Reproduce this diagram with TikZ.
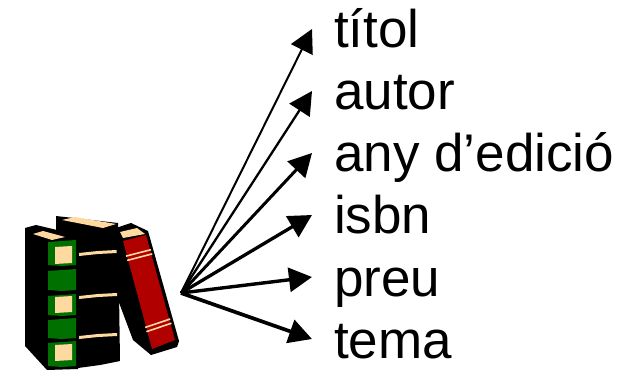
\documentclass[tikz,border=0pt]{standalone}
\usepackage{fontspec}
\setmainfont{Liberation Sans}
\usetikzlibrary{arrows.meta}
\definecolor{spineGreen}{RGB}{0,112,0}
\definecolor{spineRed}{RGB}{176,0,0}
\definecolor{pageBeige}{RGB}{255,218,160}

\begin{document}
\begin{tikzpicture}[x=1pt, y=-1pt,
    field/.style={anchor=base west, inner sep=0pt, text height=38pt, text depth=0pt,
      font=\fontsize{53}{62}\selectfont},
    link/.style={-{Triangle[length=23pt,width=24pt]}}]
	\useasboundingbox (0,0) rectangle (626,371);
	% middle book
	\fill (56,216) -- (118,223) -- (120,361) -- (100,365) -- (78,368) -- (56,345) -- cycle;
	\fill[pageBeige] (62,220) -- (75,217) -- (116,224) -- (103,228) -- cycle;
	\foreach \y in {250,293,333}
		\fill[pageBeige] (79,\y+3) -- (98,\y+1) -- (117,\y) -- (117,\y+3) -- (98,\y+4) -- (79,\y+6) -- cycle;
	% red book
	\fill (116,228) -- (131,223) -- (148,231) -- (179,341) -- (177,347) -- (151,355) -- (133,340) -- (118,300) -- cycle;
	\fill[spineRed] (123,241) -- (146,235) -- (175,340) -- (152,349) -- cycle;
	\fill[pageBeige] (120,232) -- (137,228) -- (145,234) -- (123,238) -- cycle;
	\draw[pageBeige, line width=1.6pt] (126,256.1) -- (151,249.7) (127.2,260.4) -- (152.2,253.9);
	\draw[pageBeige, line width=1.6pt] (145.2,327.4) -- (170.2,319) (146.4,331.7) -- (171.4,323.2);
	% green book
	\fill (25,228) -- (36,225) -- (78,235) -- (78,369) -- (47,370) -- (25,346) -- cycle;
	\fill[pageBeige] (33,234) -- (43,231) -- (65,237) -- (52,240) -- cycle;
	\foreach \a/\b in {241/265, 270/290, 295/315, 319/338, 342/366}
		\fill[spineGreen] (48,\a+1) -- (62,\a) -- (76,\a-1) -- (76,\b) -- (62,\b+1) -- (48,\b) -- cycle;
	\foreach \a/\b in {247/263, 297/312, 345/360}
		\fill[pageBeige] (55,\a) -- (72,\a-1) -- (72,\b) -- (55,\b+1) -- cycle;
	% fields
	\coordinate (hub) at (181,293);
	\node[field] (titol) at (334,48) {títol};
	\node[field] (autor) at (334,110) {autor};
	\node[field] (any) at (334,172) {any d’edició};
	\node[field] (isbn) at (334,234) {isbn};
	\node[field] (preu) at (334,296) {preu};
	\node[field] (tema) at (334,358) {tema};
	\foreach \lbl/\w in {titol/2, autor/2.3, any/3, isbn/3.3, preu/3.4, tema/3.7}
		\draw[link, line width=\w pt] (hub) -- ([xshift=-22pt]\lbl.west);
\end{tikzpicture}
\end{document}
